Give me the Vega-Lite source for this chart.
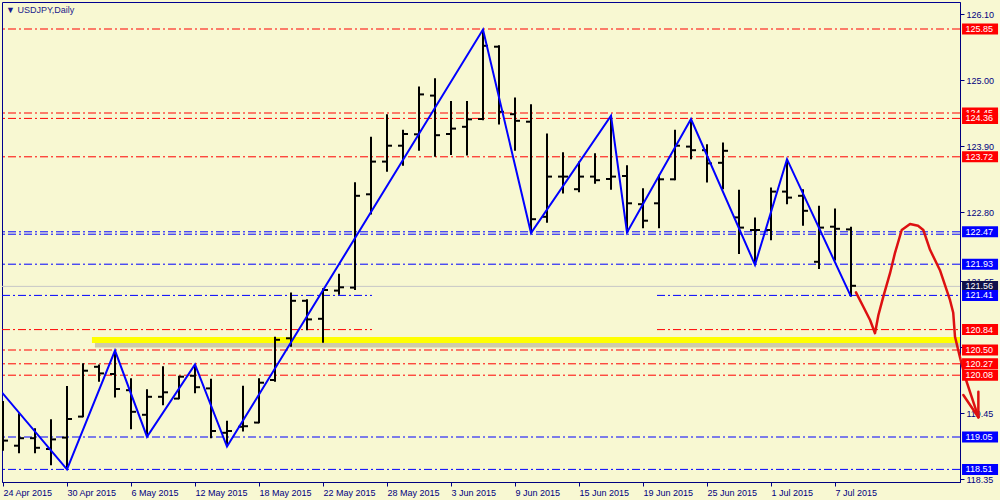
{
  "$schema": "https://vega.github.io/schema/vega-lite/v6.json",
  "width": 958,
  "height": 480,
  "autosize": {"type": "none"},
  "padding": {"left": 2, "top": 2, "right": 40, "bottom": 18},
  "background": "#F8F8D2",
  "config": {
    "view": {"stroke": "#000090", "strokeWidth": 1, "fill": "#F8F8D2"},
    "font": "Liberation Sans"
  },
  "title": {
    "text": "▼ USDJPY,Daily",
    "anchor": "start",
    "frame": "group",
    "orient": "top",
    "offset": -13,
    "dx": 4,
    "fontSize": 9,
    "fontWeight": "normal",
    "color": "#1a1a8c",
    "font": "Liberation Sans"
  },
  "datasets": {
    "bars": [
      {"i":0,"d":"2015-04-24","o":119.10,"h":119.65,"l":118.82,"c":118.99},
      {"i":1,"d":"2015-04-27","o":118.905,"h":119.445,"l":118.78,"c":119.03},
      {"i":2,"d":"2015-04-28","o":119.03,"h":119.195,"l":118.78,"c":118.87},
      {"i":3,"d":"2015-04-29","o":118.85,"h":119.345,"l":118.58,"c":119.01},
      {"i":4,"d":"2015-04-30","o":119.04,"h":119.90,"l":118.51,"c":119.35},
      {"i":5,"d":"2015-05-01","o":119.39,"h":120.28,"l":119.38,"c":120.155},
      {"i":6,"d":"2015-05-04","o":120.22,"h":120.26,"l":119.97,"c":120.11},
      {"i":7,"d":"2015-05-05","o":120.10,"h":120.50,"l":119.71,"c":119.85},
      {"i":8,"d":"2015-05-06","o":119.83,"h":120.03,"l":119.18,"c":119.47},
      {"i":9,"d":"2015-05-07","o":119.42,"h":119.845,"l":119.055,"c":119.72},
      {"i":10,"d":"2015-05-08","o":119.72,"h":120.23,"l":119.58,"c":119.795},
      {"i":11,"d":"2015-05-11","o":119.69,"h":120.07,"l":119.68,"c":120.055},
      {"i":12,"d":"2015-05-12","o":120.07,"h":120.26,"l":119.78,"c":119.88},
      {"i":13,"d":"2015-05-13","o":119.86,"h":120.02,"l":119.03,"c":119.15},
      {"i":14,"d":"2015-05-14","o":119.12,"h":119.32,"l":118.89,"c":119.15},
      {"i":15,"d":"2015-05-15","o":119.22,"h":119.905,"l":119.14,"c":119.23},
      {"i":16,"d":"2015-05-18","o":119.29,"h":120.03,"l":119.28,"c":119.955},
      {"i":17,"d":"2015-05-19","o":120.00,"h":120.72,"l":119.97,"c":120.67},
      {"i":18,"d":"2015-05-20","o":120.695,"h":121.46,"l":120.555,"c":121.32},
      {"i":19,"d":"2015-05-21","o":121.32,"h":121.345,"l":120.83,"c":121.01},
      {"i":20,"d":"2015-05-22","o":121.02,"h":121.53,"l":120.62,"c":121.50},
      {"i":21,"d":"2015-05-25","o":121.49,"h":121.77,"l":121.42,"c":121.545},
      {"i":22,"d":"2015-05-26","o":121.54,"h":123.295,"l":121.50,"c":123.07},
      {"i":23,"d":"2015-05-27","o":123.095,"h":124.055,"l":122.76,"c":123.64},
      {"i":24,"d":"2015-05-28","o":123.64,"h":124.43,"l":123.47,"c":123.905},
      {"i":25,"d":"2015-05-29","o":123.905,"h":124.17,"l":123.57,"c":124.10},
      {"i":26,"d":"2015-06-01","o":124.095,"h":124.89,"l":123.82,"c":124.76},
      {"i":27,"d":"2015-06-02","o":124.74,"h":125.03,"l":123.72,"c":124.08},
      {"i":28,"d":"2015-06-03","o":124.10,"h":124.65,"l":123.75,"c":124.19},
      {"i":29,"d":"2015-06-04","o":124.22,"h":124.65,"l":123.74,"c":124.345},
      {"i":30,"d":"2015-06-05","o":124.35,"h":125.84,"l":124.33,"c":125.57},
      {"i":31,"d":"2015-06-08","o":125.555,"h":125.58,"l":124.26,"c":124.47},
      {"i":32,"d":"2015-06-09","o":124.43,"h":124.71,"l":123.82,"c":124.32},
      {"i":33,"d":"2015-06-10","o":124.305,"h":124.595,"l":122.45,"c":122.68},
      {"i":34,"d":"2015-06-11","o":122.72,"h":124.11,"l":122.62,"c":123.39},
      {"i":35,"d":"2015-06-12","o":123.39,"h":123.795,"l":123.11,"c":123.39},
      {"i":36,"d":"2015-06-15","o":123.18,"h":123.64,"l":123.13,"c":123.39},
      {"i":37,"d":"2015-06-16","o":123.39,"h":123.78,"l":123.27,"c":123.33},
      {"i":38,"d":"2015-06-17","o":123.35,"h":124.405,"l":123.17,"c":123.39},
      {"i":39,"d":"2015-06-18","o":123.40,"h":123.58,"l":122.46,"c":122.945},
      {"i":40,"d":"2015-06-19","o":122.93,"h":123.195,"l":122.53,"c":122.655},
      {"i":41,"d":"2015-06-22","o":122.945,"h":123.42,"l":122.53,"c":123.345},
      {"i":42,"d":"2015-06-23","o":123.345,"h":124.17,"l":123.33,"c":123.905},
      {"i":43,"d":"2015-06-24","o":123.89,"h":124.35,"l":123.68,"c":123.83},
      {"i":44,"d":"2015-06-25","o":123.83,"h":123.93,"l":123.29,"c":123.61},
      {"i":45,"d":"2015-06-26","o":123.62,"h":123.96,"l":123.18,"c":123.82},
      {"i":46,"d":"2015-06-29","o":122.71,"h":123.17,"l":122.10,"c":122.54},
      {"i":47,"d":"2015-06-30","o":122.50,"h":122.71,"l":121.92,"c":122.50},
      {"i":48,"d":"2015-07-01","o":122.50,"h":123.21,"l":122.33,"c":123.14},
      {"i":49,"d":"2015-07-02","o":123.14,"h":123.68,"l":122.93,"c":123.04},
      {"i":50,"d":"2015-07-03","o":123.07,"h":123.18,"l":122.57,"c":122.82},
      {"i":51,"d":"2015-07-06","o":121.97,"h":122.905,"l":121.85,"c":122.54},
      {"i":52,"d":"2015-07-07","o":122.555,"h":122.86,"l":121.99,"c":122.52},
      {"i":53,"d":"2015-07-08","o":122.51,"h":122.555,"l":121.39,"c":121.57}
    ],
    "zigzag": [
      {"i":-0.06,"p":119.79},
      {"i":4,"p":118.51},
      {"i":7,"p":120.49},
      {"i":9,"p":119.055},
      {"i":12,"p":120.26},
      {"i":14,"p":118.89},
      {"i":30,"p":125.84},
      {"i":33,"p":122.45},
      {"i":38,"p":124.405},
      {"i":39,"p":122.46},
      {"i":43,"p":124.35},
      {"i":47,"p":121.92},
      {"i":49,"p":123.68},
      {"i":53,"p":121.39}
    ],
    "levels": [
      {"p":125.85,"kind":"red","span":"full","label":"125.85"},
      {"p":124.45,"kind":"red","span":"full","label":"124.45"},
      {"p":124.36,"kind":"red","span":"full","label":"124.36"},
      {"p":123.72,"kind":"red","span":"full","label":"123.72"},
      {"p":122.47,"kind":"blue","span":"full","label":"122.47"},
      {"p":122.43,"kind":"blue","span":"full","label":""},
      {"p":121.93,"kind":"blue","span":"full","label":"121.93"},
      {"p":121.56,"kind":"bid","span":"full","label":"121.56"},
      {"p":121.41,"kind":"blue","span":"part","label":"121.41"},
      {"p":120.84,"kind":"red","span":"part","label":"120.84"},
      {"p":120.50,"kind":"red","span":"full","label":"120.50"},
      {"p":120.27,"kind":"red","span":"full","label":"120.27"},
      {"p":120.08,"kind":"red","span":"full","label":"120.08"},
      {"p":119.05,"kind":"blue","span":"full","label":"119.05"},
      {"p":118.51,"kind":"blue","span":"full","label":"118.51"}
    ],
    "segments": [
      {"p":121.41,"kind":"blue","from":-0.0625,"to":23.06},
      {"p":121.41,"kind":"blue","from":40.875,"to":59.8125},
      {"p":120.84,"kind":"red","from":-0.0625,"to":23.06},
      {"p":120.84,"kind":"red","from":40.875,"to":59.8125}
    ],
    "zone": [
      {"p":120.667,"from":5.56,"to":59.8125}
    ],
    "curve": [
      {"part":"path","n":1,"i":53.31,"p":121.46},
      {"part":"path","n":2,"i":53.77,"p":121.22},
      {"part":"path","n":3,"i":54.19,"p":121.0},
      {"part":"path","n":4,"i":54.5,"p":120.78},
      {"part":"path","n":5,"i":54.71,"p":121.08},
      {"part":"path","n":6,"i":55.02,"p":121.39},
      {"part":"path","n":7,"i":55.44,"p":121.78},
      {"part":"path","n":8,"i":55.75,"p":122.12},
      {"part":"path","n":9,"i":56.17,"p":122.50},
      {"part":"path","n":10,"i":56.69,"p":122.60},
      {"part":"path","n":11,"i":57.19,"p":122.57},
      {"part":"path","n":12,"i":57.52,"p":122.50},
      {"part":"path","n":13,"i":57.94,"p":122.17},
      {"part":"path","n":14,"i":58.56,"p":121.83},
      {"part":"path","n":15,"i":59.19,"p":121.33},
      {"part":"path","n":16,"i":59.39,"p":121.12},
      {"part":"path","n":17,"i":59.5,"p":120.72},
      {"part":"path","n":18,"i":59.81,"p":120.38},
      {"part":"path","n":19,"i":60.13,"p":120.05},
      {"part":"path","n":20,"i":60.54,"p":119.72},
      {"part":"path","n":21,"i":60.96,"p":119.38},
      {"part":"headL","n":1,"i":60.02,"p":119.75},
      {"part":"headL","n":2,"i":60.96,"p":119.38},
      {"part":"headR","n":1,"i":60.96,"p":119.805},
      {"part":"headR","n":2,"i":60.96,"p":119.38}
    ]
  },
  "layer": [
    {
      "data": {"name": "levels"},
      "transform": [{"filter": "datum.kind === 'bid'"}],
      "mark": {"type": "rule", "color": "#c8c8c8", "strokeWidth": 1},
      "encoding": {
        "y": {
          "field": "p", "type": "quantitative",
          "scale": {"domain": [118.30, 126.30], "nice": false, "zero": false},
          "axis": {
            "orient": "right", "title": null, "grid": false,
            "values": [126.10,125.55,125.00,124.45,123.90,123.35,122.80,122.20,121.65,121.10,120.55,120.00,119.45,118.90,118.35],
            "format": ".2f",
            "labelColor": "#000080", "tickColor": "#000080", "domainColor": "#000080",
            "tickSize": 4, "labelPadding": 2, "labelFont": "Liberation Sans", "labelFontSize": 9,
            "labelOverlap": false, "labelFlush": false, "labelBound": false
          }
        }
      }
    },
    {
      "data": {"name": "levels"},
      "transform": [{"filter": "datum.kind === 'red' && datum.span === 'full'"}],
      "mark": {"type": "rule", "color": "#ff0000", "strokeWidth": 1, "strokeDash": [8, 3, 2, 3]},
      "encoding": {"y": {"field": "p", "type": "quantitative"}}
    },
    {
      "data": {"name": "levels"},
      "transform": [{"filter": "datum.kind === 'blue' && datum.span === 'full'"}],
      "mark": {"type": "rule", "color": "#0000ff", "strokeWidth": 1, "strokeDash": [8, 3, 2, 3]},
      "encoding": {"y": {"field": "p", "type": "quantitative"}}
    },
    {
      "data": {"name": "segments"},
      "transform": [{"filter": "datum.kind === 'red'"}],
      "mark": {"type": "rule", "color": "#ff0000", "strokeWidth": 1, "strokeDash": [8, 3, 2, 3]},
      "encoding": {
        "x": {"field": "from", "type": "quantitative"},
        "x2": {"field": "to"},
        "y": {"field": "p", "type": "quantitative"}
      }
    },
    {
      "data": {"name": "segments"},
      "transform": [{"filter": "datum.kind === 'blue'"}],
      "mark": {"type": "rule", "color": "#0000ff", "strokeWidth": 1, "strokeDash": [8, 3, 2, 3]},
      "encoding": {
        "x": {"field": "from", "type": "quantitative"},
        "x2": {"field": "to"},
        "y": {"field": "p", "type": "quantitative"}
      }
    },
    {
      "data": {"name": "zone"},
      "mark": {"type": "rule", "color": "#807860", "opacity": 0.35, "strokeWidth": 5, "yOffset": 5, "xOffset": 3},
      "encoding": {
        "x": {"field": "from", "type": "quantitative"},
        "x2": {"field": "to"},
        "y": {"field": "p", "type": "quantitative"}
      }
    },
    {
      "data": {"name": "zone"},
      "mark": {"type": "rule", "color": "#ffff00", "strokeWidth": 6},
      "encoding": {
        "x": {"field": "from", "type": "quantitative"},
        "x2": {"field": "to"},
        "y": {"field": "p", "type": "quantitative"}
      }
    },
    {
      "data": {"name": "bars"},
      "mark": {"type": "rule", "color": "#000000", "strokeWidth": 2, "clip": true},
      "encoding": {
        "x": {
          "field": "i", "type": "quantitative",
          "scale": {"domain": [-0.0625, 59.8125], "nice": false, "zero": false},
          "axis": {
            "orient": "bottom", "title": null, "grid": false,
            "values": [0,4,8,12,16,20,24,28,32,36,40,44,48,52],
            "labelExpr": "['24 Apr 2015','30 Apr 2015','6 May 2015','12 May 2015','18 May 2015','22 May 2015','28 May 2015','3 Jun 2015','9 Jun 2015','15 Jun 2015','19 Jun 2015','25 Jun 2015','1 Jul 2015','7 Jul 2015'][round(datum.value/4)]",
            "labelAlign": "left", "labelBaseline": "top", "labelDx": 1, "labelPadding": 2,
            "labelColor": "#000080", "tickColor": "#000080", "domainColor": "#000080",
            "tickSize": 4, "labelFont": "Liberation Sans", "labelFontSize": 9,
            "labelOverlap": false, "labelFlush": false, "labelBound": false
          }
        },
        "y": {"field": "h", "type": "quantitative"},
        "y2": {"field": "l"}
      }
    },
    {
      "data": {"name": "bars"},
      "mark": {"type": "rule", "color": "#000000", "strokeWidth": 2, "xOffset": -5, "x2Offset": 0, "clip": true},
      "encoding": {
        "x": {"field": "i", "type": "quantitative"},
        "x2": {"field": "i"},
        "y": {"field": "o", "type": "quantitative"}
      }
    },
    {
      "data": {"name": "bars"},
      "mark": {"type": "rule", "color": "#000000", "strokeWidth": 2, "xOffset": 0, "x2Offset": 5, "clip": true},
      "encoding": {
        "x": {"field": "i", "type": "quantitative"},
        "x2": {"field": "i"},
        "y": {"field": "c", "type": "quantitative"}
      }
    },
    {
      "data": {"name": "zigzag"},
      "mark": {"type": "line", "color": "#0000ff", "strokeWidth": 2, "clip": true},
      "encoding": {
        "x": {"field": "i", "type": "quantitative"},
        "y": {"field": "p", "type": "quantitative"}
      }
    },
    {
      "data": {"name": "curve"},
      "mark": {"type": "line", "color": "#dd1111", "strokeWidth": 2.5, "strokeCap": "round", "strokeJoin": "round"},
      "encoding": {
        "x": {"field": "i", "type": "quantitative"},
        "y": {"field": "p", "type": "quantitative"},
        "detail": {"field": "part"},
        "order": {"field": "n", "type": "quantitative"}
      }
    },
    {
      "data": {"name": "levels"},
      "transform": [{"filter": "datum.label === '124.45'"}],
      "layer": [
        {
          "mark": {"type": "rect", "height": 11, "color": "#ff0000"},
          "encoding": {
            "x": {"datum": 59.94, "type": "quantitative"},
            "x2": {"datum": 62.19},
            "y": {"field": "p", "type": "quantitative"}
          }
        },
        {
          "mark": {"type": "text", "color": "#ffffff", "align": "left", "baseline": "middle", "fontSize": 9, "font": "Liberation Sans"},
          "encoding": {
            "x": {"datum": 60.16, "type": "quantitative"},
            "y": {"field": "p", "type": "quantitative"},
            "text": {"field": "label"}
          }
        }
      ]
    },
    {
      "data": {"name": "levels"},
      "transform": [{"filter": "datum.label !== '' && datum.label !== '124.45'"}],
      "layer": [
        {
          "mark": {"type": "rect", "height": 11},
          "encoding": {
            "x": {"datum": 59.94, "type": "quantitative"},
            "x2": {"datum": 62.19},
            "y": {"field": "p", "type": "quantitative"},
            "color": {
              "field": "kind", "type": "nominal", "legend": null,
              "scale": {"domain": ["red", "blue", "bid"], "range": ["#ff0000", "#0000ff", "#10104a"]}
            }
          }
        },
        {
          "mark": {"type": "text", "color": "#ffffff", "align": "left", "baseline": "middle", "fontSize": 9, "font": "Liberation Sans"},
          "encoding": {
            "x": {"datum": 60.16, "type": "quantitative"},
            "y": {"field": "p", "type": "quantitative"},
            "text": {"field": "label"}
          }
        }
      ]
    }
  ]
}
